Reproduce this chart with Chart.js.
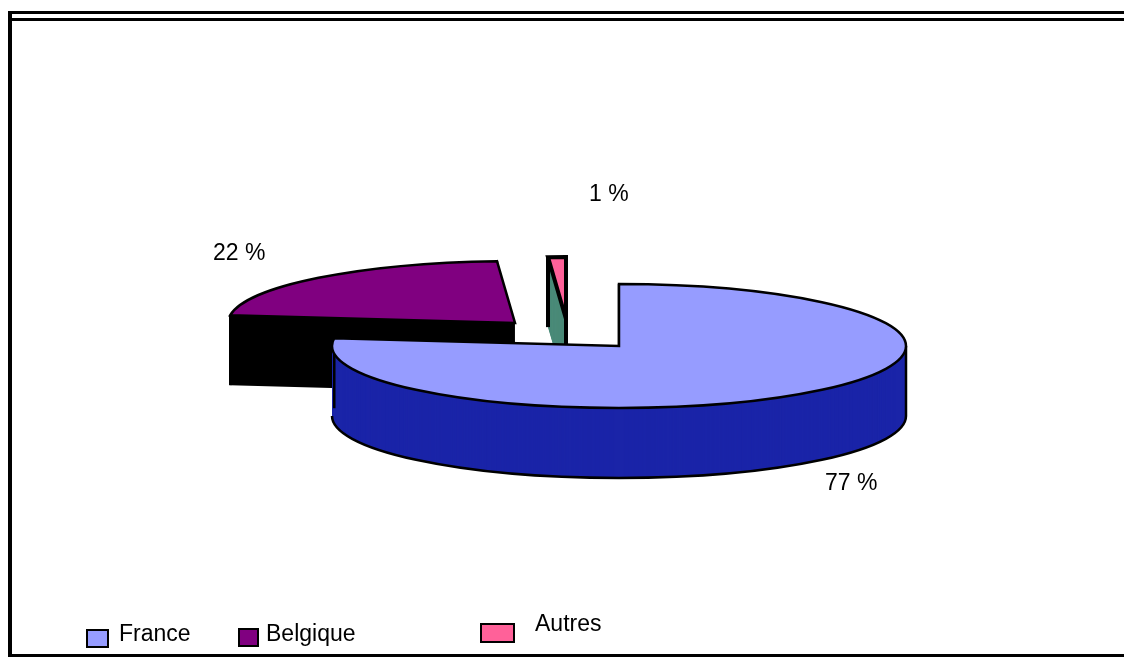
<!DOCTYPE html>
<html>
<head>
<meta charset="utf-8">
<title>Répartition</title>
<script src="https://cdn.jsdelivr.net/npm/chart.js@4/dist/chart.umd.js"></script>
<style>
    html, body { margin: 0; padding: 0; background: #fff; overflow: hidden; }
    canvas { display: block; }
</style>
</head>
<body>
<canvas id="pie3d" width="1124" height="657"></canvas>
<script>
// Data
const categories = ['France', 'Belgique', 'Autres'];
const shares = [77, 22, 1];
const shareLabels = ['77 %', '22 %', '1 %'];

// Colours
const topColors = ['#969cff', '#800080', '#ff6199'];
const wallColors = ['#1a24a8', '#000000', '#4a8a78'];

// 3D look
const tilt = 0.216;
const depth = 70;
const drawOrder = [1, 2, 0];
const explodeX = [0, -104, -53];
const explodeY = [0, -23, -27];
const outlineWidth = [2.5, 2.5, 4];

const labelPos = [[825, 490], [213, 260], [589, 201]];
const legendBoxes = [[87, 630, 21, 17], [239, 629, 19, 17], [481, 624, 33, 18]];
const legendText = [[119, 641], [266, 641], [535, 631]];

function sectorPath(ctx, arc, cx, cy) {
    ctx.beginPath();
    ctx.moveTo(cx, cy);
    ctx.ellipse(cx, cy, arc.outerRadius, arc.outerRadius * tilt, 0, arc.startAngle, arc.endAngle);
    ctx.closePath();
}

const pie3dPlugin = {
    id: 'pie3d',
    beforeDatasetsDraw(chart) {
        const ctx = chart.ctx;
        const arcs = chart.getDatasetMeta(0).data;
        ctx.save();
        ctx.lineJoin = 'miter';
        ctx.miterLimit = 3;
        ctx.strokeStyle = '#000';

        drawOrder.forEach(i => {
            const arc = arcs[i];
            const cx = arc.x + explodeX[i];
            const cy = arc.y + explodeY[i];
            const rx = arc.outerRadius;
            const ry = rx * tilt;

            // side wall
            ctx.fillStyle = wallColors[i];
            for (let d = depth; d > 0; d--) {
                sectorPath(ctx, arc, cx, cy + d);
                ctx.fill();
            }

            // wall outline
            ctx.lineWidth = outlineWidth[i];
            const edges = [arc.startAngle, arc.endAngle];
            if (arc.startAngle < 0 && arc.endAngle > 0) edges.push(0);
            edges.forEach(a => {
                const x = cx + rx * Math.cos(a);
                const y = cy + ry * Math.sin(a);
                ctx.beginPath();
                ctx.moveTo(x, y);
                ctx.lineTo(x, y + depth);
                ctx.stroke();
            });
            // the thin slice shows its inner edge too, down to the big slice
            if (categories[i] === 'Autres') {
                ctx.beginPath();
                ctx.moveTo(cx, cy);
                ctx.lineTo(cx, cy + depth);
                ctx.stroke();
            }
            const from = Math.max(arc.startAngle, 0);
            const to = Math.min(arc.endAngle, Math.PI);
            if (to > from) {
                ctx.beginPath();
                ctx.ellipse(cx, cy + depth, rx, ry, 0, from, to);
                ctx.stroke();
            }

            // top face
            sectorPath(ctx, arc, cx, cy);
            ctx.fillStyle = topColors[i];
            ctx.fill();
            ctx.stroke();
        });
        ctx.restore();
        return false;
    },
    afterDraw(chart) {
        const ctx = chart.ctx;
        ctx.save();

        // frame, open on the right
        ctx.fillStyle = '#000';
        ctx.fillRect(8, 11, 1116, 3);
        ctx.fillRect(8, 18, 1116, 3);
        ctx.fillRect(8, 11, 4, 646);
        ctx.fillRect(8, 654, 1116, 3);

        // percent labels
        ctx.fillStyle = '#000';
        ctx.font = '23px "Liberation Sans"';
        ctx.textBaseline = 'alphabetic';
        shareLabels.forEach((t, i) => ctx.fillText(t, labelPos[i][0], labelPos[i][1]));

        // legend
        categories.forEach((name, i) => {
            const b = legendBoxes[i];
            ctx.fillStyle = topColors[i];
            ctx.fillRect(b[0], b[1], b[2], b[3]);
            ctx.strokeStyle = '#000';
            ctx.lineWidth = 2;
            ctx.strokeRect(b[0], b[1], b[2], b[3]);
            ctx.fillStyle = '#000';
            ctx.fillText(name, legendText[i][0], legendText[i][1]);
        });
        ctx.restore();
    }
};

new Chart(document.getElementById('pie3d'), {
    type: 'pie',
    data: {
        labels: categories,
        datasets: [{
            data: shares,
            backgroundColor: topColors,
            borderWidth: 0,
            hoverOffset: 0
        }]
    },
    options: {
        responsive: false,
        animation: false,
        devicePixelRatio: 1,
        layout: { padding: { left: 332, right: 218, top: 59, bottom: 24 } },
        plugins: {
            legend: { display: false },
            tooltip: { enabled: false }
        }
    },
    plugins: [pie3dPlugin]
});
</script>
</body>
</html>
